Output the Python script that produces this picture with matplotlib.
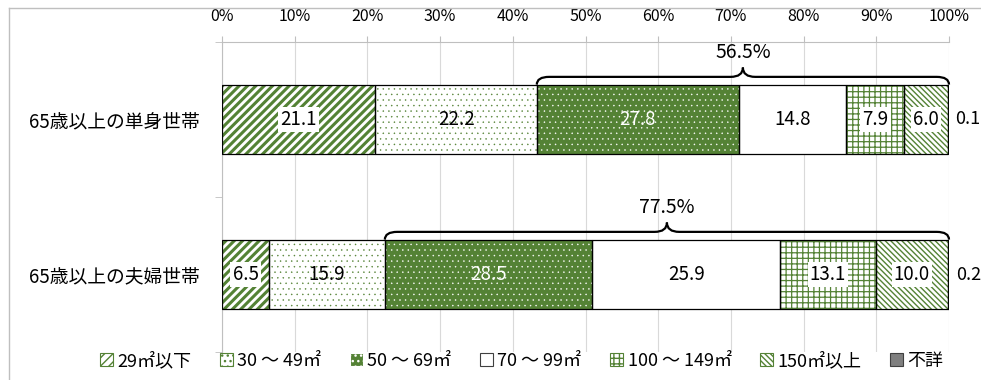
import numpy as np
import matplotlib.pyplot as plt
from matplotlib.path import Path
from matplotlib.patches import PathPatch, Patch
from matplotlib.lines import Line2D

plt.rcParams['font.family'] = ['Noto Sans CJK JP', 'DejaVu Sans']

# 住宅の延べ面積別割合（%）
categories = ['65歳以上の単身世帯', '65歳以上の夫婦世帯']
series = ['29㎡以下', '30 ～ 49㎡', '50 ～ 69㎡', '70 ～ 99㎡',
          '100 ～ 149㎡', '150㎡以上', '不詳']
under_29 = [21.1, 6.5]
m30_49 = [22.2, 15.9]
m50_69 = [27.8, 28.5]
m70_99 = [14.8, 25.9]
m100_149 = [7.9, 13.1]
over_150 = [6.0, 10.0]
unknown = [0.1, 0.2]
values = [under_29, m30_49, m50_69, m70_99, m100_149, over_150, unknown]

green = '#548235'
# facecolor, hatch color, hatch, hatch linewidth, text color, white box
styles = [
    ('white', green, '////', 2.2, 'black', True),
    ('white', green, '...', 0.3, 'black', False),
    (green, 'white', '...', 0.3, 'white', False),
    ('white', '#404040', None, 1.0, 'black', False),
    ('white', green, '+++', 0.9, 'black', True),
    ('white', green, '\\' * 6, 1.0, 'black', True),
    ('#7f7f7f', '#404040', None, 1.0, 'black', False),
]

fig = plt.figure(figsize=(9.81, 3.8), dpi=100)
ax = fig.add_axes([222 / 981, 1 - 352 / 380, 727 / 981, 310 / 380])

y = np.arange(len(categories))
bar_h = 0.45
left = np.zeros(len(categories))
handles = []
for name, vals, (fc, hc, hatch, hlw, tc, box) in zip(series, values, styles):
    vals = np.array(vals)
    with plt.rc_context({'hatch.linewidth': hlw}):
        bars = ax.barh(y, vals, left=left, height=bar_h, color=fc,
                       edgecolor=hc, hatch=hatch, linewidth=0, zorder=2)
        for b in bars:
            if hasattr(b, 'set_hatch_linewidth'):
                b.set_hatch_linewidth(hlw)
        h = Patch(facecolor=fc, edgecolor=hc, hatch=hatch, linewidth=0.8,
                  label=name)
        if hasattr(h, 'set_hatch_linewidth'):
            h.set_hatch_linewidth(min(hlw, 1.2))
        handles.append(h)
    ax.barh(y, vals, left=left, height=bar_h, fill=False,
            edgecolor='black', linewidth=0.9, zorder=3)
    for yi, l, v in zip(y, left, vals):
        if name == '不詳':
            # 不詳は棒の右側に表示
            ax.text(l + v + 0.9, yi, f'{v:.1f}', ha='left', va='center',
                    fontsize=13, clip_on=False)
            continue
        bbox = dict(boxstyle='square,pad=0.12', fc='white', ec='none') if box else None
        ax.text(l + v / 2, yi, f'{v:.1f}', ha='center', va='center',
                fontsize=13.5, color=tc, bbox=bbox, zorder=4)
    left = left + vals


def brace(ax, x0, x1, ybar, label):
    yh = ybar - 0.05
    yt = ybar - 0.11
    r = 1.7
    m = (x0 + x1) / 2
    verts = [(x0, ybar), (x0, yh), (x0 + r, yh),
             (m - r, yh), (m, yh), (m, yt),
             (m, yh), (m + r, yh),
             (x1 - r, yh), (x1, yh), (x1, ybar)]
    codes = [Path.MOVETO, Path.CURVE3, Path.CURVE3,
             Path.LINETO, Path.CURVE3, Path.CURVE3,
             Path.CURVE3, Path.CURVE3,
             Path.LINETO, Path.CURVE3, Path.CURVE3]
    ax.add_patch(PathPatch(Path(verts, codes), fill=False, edgecolor='black',
                           linewidth=1.6, zorder=5, clip_on=False))
    ax.text(m, ybar - 0.21, label, ha='center', va='center', fontsize=14)


# 50㎡以上（不詳を除く）の合計
for i in range(len(categories)):
    start = under_29[i] + m30_49[i]
    total = m50_69[i] + m70_99[i] + m100_149[i] + over_150[i]
    brace(ax, start, 100, y[i] - bar_h / 2, f'{total:.1f}%')

ax.set_xlim(0, 100)
ax.set_ylim(1.5, -0.5)
ax.xaxis.tick_top()
ax.set_xticks(np.arange(0, 101, 10))
ax.set_xticklabels([f'{t}%' for t in range(0, 101, 10)])
ax.tick_params(axis='x', length=4, color='#bfbfbf', labelsize=11.5, pad=8)
ax.set_yticks(y)
ax.set_yticklabels(categories)
ax.tick_params(axis='y', which='major', length=0, labelsize=13.5, pad=16)
ax.set_yticks([-0.5, 0.5, 1.5], minor=True)
ax.tick_params(axis='y', which='minor', length=5, color='#bfbfbf')
ax.grid(axis='x', color='#d9d9d9', linewidth=0.8)
ax.set_axisbelow(True)
for s in ['right', 'bottom']:
    ax.spines[s].set_visible(False)
for s in ['top', 'left']:
    ax.spines[s].set_color('#bfbfbf')

fig.legend(handles=handles, loc='center', bbox_to_anchor=(0.532, 1 - 361 / 380),
           ncol=7, frameon=False, fontsize=13, handlelength=0.7,
           handleheight=0.7, handletextpad=0.25, columnspacing=1.6)

# グラフエリアの枠線
fig.add_artist(Line2D([9 / 981, 9 / 981], [0, 1 - 8 / 380], color='#bfbfbf',
                      linewidth=1, transform=fig.transFigure))
fig.add_artist(Line2D([9 / 981, 1], [1 - 8 / 380, 1 - 8 / 380], color='#bfbfbf',
                      linewidth=1, transform=fig.transFigure))

fig.savefig('out.png', dpi=100)
